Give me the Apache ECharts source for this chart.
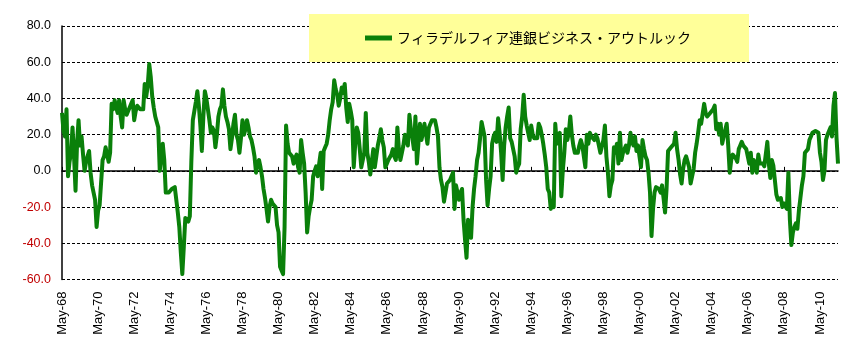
<!DOCTYPE html>
<html>
<head>
<meta charset="utf-8">
<script src="https://cdn.jsdelivr.net/npm/echarts@6/dist/echarts.min.js"></script>
<style>html,body{margin:0;padding:0;background:#fff;}#c{width:861px;height:353px;}</style>
</head>
<body>
<div id="c"></div>
<script>
// Monthly values, May 1968 – May 2011
const v1968_1972 = [32,22,19,34,-3,5,10,24,8,-11,15,28,14,19,9,0,5,8,11,-1,-8,-12,-16,-31,-22,-19,-20,6,8,13,9,5,10,37,34,39,35,32,39,30,24,39,34,31,33,35,37,39,28,33,36,35,34,33,34,48,41,47,59,52];
const v1973_1977 = [41,35,30,27,24,0,8,15,6,-12,-13,-12,-11,-10,-9,-9,-16,-23,-31,-45,-57,-42,-26,-27,-28,-25,5,28,33,38,44,36,25,11,30,44,40,34,28,21,24,22,13,20,30,34,36,45,36,30,27,23,12,18,26,31,20,17,10,18];
const v1978_1982 = [28,20,23,28,24,19,17,13,8,-1,4,6,2,-3,-10,-15,-21,-28,-20,-16,-18,-19,-20,-30,-34,-53,-55,-57,-31,25,15,10,9,8,4,7,9,2,-1,17,10,4,-12,-34,-25,-20,-16,-3,0,2.5,-3,4,10,-10,11,13,15,20,28,34];
const v1983_1987 = [38,50,45,42,36,40,46,43,48,35,27,37,33,28,2,15,24,21,12,2,6,10,32,10,5,-2,5,12,2,8,14,18,23,17,13,2,4,6,6,9,12,8,6,24,12,6,10,14,20,17,14,31,23,18,12,30,4,15,26,17];
const v1988_1992 = [21,26,26,15,24,26,28,27,28,24,19,2,-5,-9,-17,-12,-7,-6,-5,-3,-1,-21,-8,-12,-16,-12,-10,-27,-38,-48,-27,-32,-37,-20,-10,-3,6,10,18,27,23,19,-5,-19,-10,-3,15,19,21,16,29,21,10,-5,14,24,30,35,18,16];
const v1993_1997 = [15,8,-1,2,4,23,30,42,30,25,21,17,25,20,18,17,18,26,24,20,15,9,2,-10,-12,-21,-18,-20,26,15,18,21,-14,0,10,23,17,21,30,20,14,10,9,10,14,17,14,8,2,20,15,21,19,18,17,20,18,14,10,10];
const v1998_2002 = [17,25,8,-1,-14,-8,-5,13,10,15,4,21,6,10,12,14,10,14,21,16,14,19,11,14,8,2,17,12,8,6,-1,-12,-36,-21,-12,-9,-8,-10,-12,-8,-15,-23,-10,11,12,13,14,15,21,12,6,-2,-7,1,6,8,5,2,-7,-3];
const v2003_2007 = [1,10,15,21,28,26,27,37,32,30,31,32,31,34,36,23,26,20,26,15,19,19,26,14,-1,6,9,10,7,5,12,14,16,14,15,12,8,4,10,-1,6,3,-1,9,4,4,4,2.5,3,16,4,-4,6,3,-5,-13,-16,-15,-15,-20];
const v2008_2011 = [-18,-18,-21,-1,-27,-41,-34,-31,-29,-32,-22,-15,-8,-3,10,11,12,17,19,21,22,22,21,21,10,5,-5,0,17,20,20,24,19,36,43,18.5,4];

const values = [].concat(v1968_1972, v1973_1977, v1978_1982, v1983_1987, v1988_1992, v1993_1997, v1998_2002, v2003_2007, v2008_2011);

const monthNames = ['Jan','Feb','Mar','Apr','May','Jun','Jul','Aug','Sep','Oct','Nov','Dec'];
const categories = [];
for (let k = 0; k < values.length; k++) {
  const m = (4 + k) % 12;
  const y = 1968 + Math.floor((4 + k) / 12);
  categories.push(monthNames[m] + '-' + String(y % 100).padStart(2, '0'));
}
const yTicks = [-60, -40, -20, 0, 20, 40, 60, 80];
const seriesName = 'フィラデルフィア連銀ビジネス・アウトルック';

const chart = echarts.init(document.getElementById('c'), null, {renderer: 'canvas'});
chart.setOption({
  animation: false,
  backgroundColor: '#ffffff',
  grid: {left: 62, right: 23, top: 26, bottom: 73.5, containLabel: false},
  legend: {
    left: 309, top: 14,
    backgroundColor: '#FFFF99',
    padding: [17, 58, 17, 56],
    itemWidth: 27, itemHeight: 5, itemGap: 4,
    icon: 'rect',
    textStyle: {fontFamily: 'Noto Sans CJK JP', fontSize: 14, color: '#000'},
    data: [seriesName]
  },
  xAxis: {
    type: 'category',
    data: categories,
    boundaryGap: false,
    axisLine: {lineStyle: {color: '#000', width: 1.5}},
    axisTick: {inside: true, length: 4, interval: 23, lineStyle: {color: '#000'}},
    axisLabel: {interval: 23, rotate: 90, margin: 12, fontFamily: 'Liberation Sans', fontSize: 13, color: '#000'},
    splitLine: {show: false}
  },
  yAxis: {
    type: 'value',
    min: yTicks[0], max: yTicks[yTicks.length - 1], interval: 20,
    axisLine: {show: true, lineStyle: {color: '#000', width: 1.5}},
    axisTick: {show: false},
    axisLabel: {
      margin: 11, fontFamily: 'Liberation Sans', fontSize: 12.5,
      formatter: function (v) { return v < 0 ? '{r|' + v.toFixed(1) + '}' : v.toFixed(1); },
      color: '#000',
      rich: {r: {color: '#c00000', fontFamily: 'Liberation Sans', fontSize: 12.5}}
    },
    splitLine: {show: true, lineStyle: {color: '#000', type: [3, 2], width: 1}}
  },
  series: [{
    name: seriesName,
    type: 'line',
    data: values,
    symbol: 'none',
    showSymbol: false,
    lineStyle: {color: '#0a800a', width: 4, join: 'round'},
    itemStyle: {color: '#0a800a'}
  }]
});
</script>
</body>
</html>
